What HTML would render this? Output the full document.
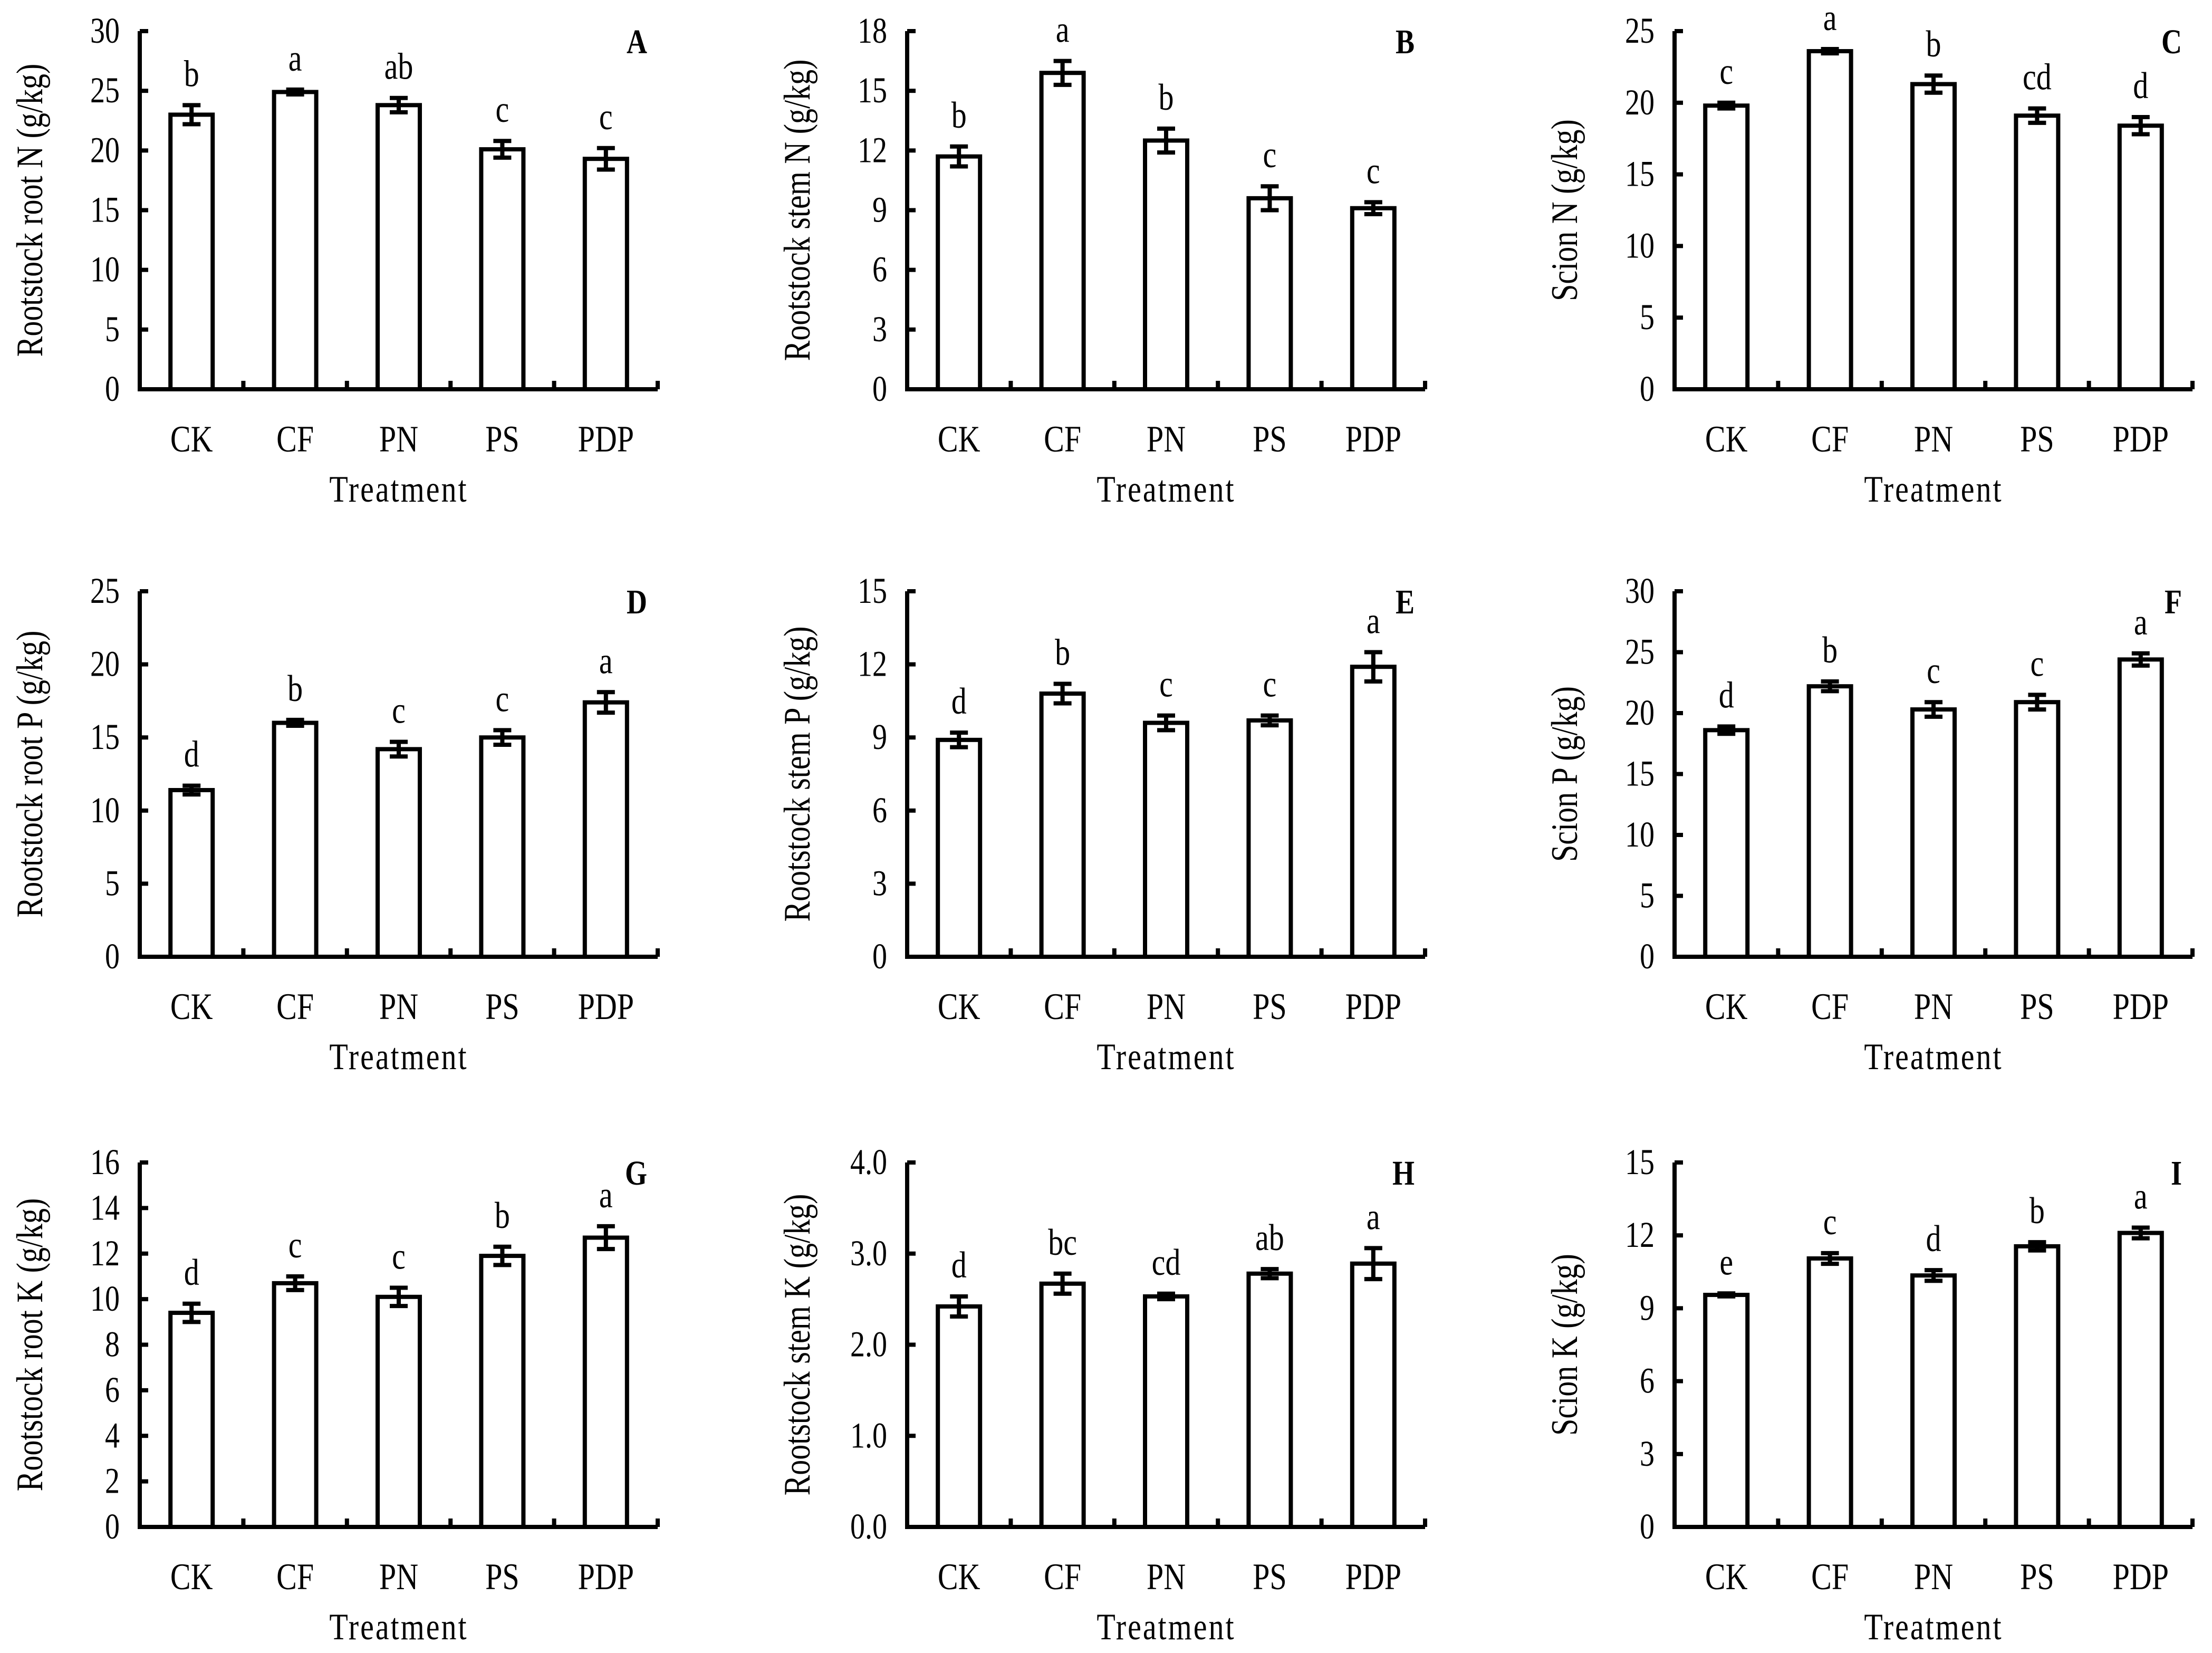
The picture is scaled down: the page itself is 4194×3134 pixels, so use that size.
<!DOCTYPE html>
<html><head><meta charset="utf-8"><style>
html,body{margin:0;padding:0;background:#fff}
svg{display:block}
text{font-family:"Liberation Serif",serif;fill:#000}
</style></head><body>
<svg id="fig" width="4194" height="3134" viewBox="0 0 4194 3134" xmlns="http://www.w3.org/2000/svg"></svg>
<script>
const categories = ["CK","CF","PN","PS","PDP"];
const panelLetters = ["A","B","C","D","E","F","G","H","I"];
const yTitles = ["Rootstock root N (g/kg)","Rootstock stem N (g/kg)","Scion N (g/kg)","Rootstock root P (g/kg)","Rootstock stem P (g/kg)","Scion P (g/kg)","Rootstock root K (g/kg)","Rootstock stem K (g/kg)","Scion K (g/kg)"];
const yMaxes = [30,18,25,25,15,30,16,4,15];
const yStepVals = [5,3,5,5,3,5,2,1,3];
const yDecimals = [0,0,0,0,0,0,0,1,0];
const meansA = [23.0,24.9,23.8,20.1,19.3];
const errsA = [0.8,0.2,0.6,0.7,0.9];
const meansB = [11.7,15.9,12.5,9.6,9.1];
const errsB = [0.5,0.6,0.6,0.6,0.3];
const meansC = [19.8,23.6,21.3,19.1,18.4];
const errsC = [0.2,0.15,0.6,0.5,0.6];
const meansD = [11.4,16.0,14.2,15.0,17.4];
const errsD = [0.3,0.2,0.5,0.5,0.7];
const meansE = [8.9,10.8,9.6,9.7,11.9];
const errsE = [0.3,0.4,0.3,0.2,0.6];
const meansF = [18.6,22.2,20.3,20.9,24.4];
const errsF = [0.3,0.4,0.6,0.6,0.5];
const meansG = [9.4,10.7,10.1,11.9,12.7];
const errsG = [0.4,0.3,0.4,0.4,0.5];
const meansH = [2.42,2.67,2.53,2.78,2.89];
const errsH = [0.11,0.11,0.03,0.05,0.17];
const meansI = [9.55,11.05,10.35,11.55,12.1];
const errsI = [0.06,0.22,0.22,0.17,0.22];
const lettersA = ["b","a","ab","c","c"];
const lettersB = ["b","a","b","c","c"];
const lettersC = ["c","a","b","cd","d"];
const lettersD = ["d","b","c","c","a"];
const lettersE = ["d","b","c","c","a"];
const lettersF = ["d","b","c","c","a"];
const lettersG = ["d","c","c","b","a"];
const lettersH = ["d","bc","cd","ab","a"];
const lettersI = ["e","c","d","b","a"];

const allMeans=[meansA,meansB,meansC,meansD,meansE,meansF,meansG,meansH,meansI];
const allErrs=[errsA,errsB,errsC,errsD,errsE,errsF,errsG,errsH,errsI];
const allLetters=[lettersA,lettersB,lettersC,lettersD,lettersE,lettersF,lettersG,lettersH,lettersI];

const svg=document.getElementById('fig');
const NS="http://www.w3.org/2000/svg";
function mk(tag,attrs,parent,txt){const e=document.createElementNS(NS,tag);for(const k in attrs)e.setAttribute(k,attrs[k]);if(txt!==undefined)e.textContent=txt;parent.appendChild(e);return e;}
function tx(parent,x,y,size,anchor,str,extra,rot){
  let tr=`translate(${x} ${y})`+(rot?` rotate(${rot})`:'')+' scale(1 1.22)';
  const a={x:0,y:0,'font-size':size,'text-anchor':anchor,transform:tr};
  if(extra)for(const k in extra)a[k]=extra[k];
  return mk('text',a,parent,str);
}

const axisXs=[265,1720,3175];
const topYs=[59,1121,2204];
const zeroYs=[738,1814,2895];
const axisLen=982;
const LW=8;

for(let p=0;p<9;p++){
  const r=Math.floor(p/3),c=p%3;
  const x0=axisXs[c],yT=topYs[r],y0=zeroYs[r];
  const ymax=yMaxes[p];
  const ys=v=>y0-(v/ymax)*(y0-yT);
  const cw=axisLen/categories.length;
  const xs=i=>x0+cw*(i+0.5);
  const g=mk('g',{},svg);
  
  
  const means=allMeans[p],errs=allErrs[p],lets=allLetters[p];
  for(let i=0;i<categories.length;i++){
    const cx=xs(i),bw=80;
    const b=mk('rect',{x:cx-bw/2,y:ys(means[i]),width:bw,height:y0-ys(means[i]),fill:'#fff',stroke:'#000','stroke-width':LW},g);
    
    
    const hi=ys(means[i]+errs[i]),lo=ys(means[i]-errs[i]);
    const eb=mk('path',{d:`M${cx} ${hi}V${lo}M${cx-17} ${hi}H${cx+17}M${cx-17} ${lo}H${cx+17}`,stroke:'#000','stroke-width':LW,fill:'none'},g);
    
    
    const lt=tx(g,cx,hi-36,58,'middle',lets[i]);
    
    
    const cl=tx(g,cx,y0+118,58,'middle',categories[i]);
    
    
  }
  const ax=mk('path',{d:`M${x0} ${yT}V${y0}H${x0+axisLen}`,stroke:'#000','stroke-width':LW,fill:'none'},g);
  
  
  for(let k=1;k<=categories.length;k++){
    const xx=x0+cw*k;
    mk('line',{x1:xx,x2:xx,y1:y0,y2:y0-16,stroke:'#000','stroke-width':LW},g);
  }
  const step=yStepVals[p];
  for(let v=0;v<=ymax+1e-9;v+=step){
    const y=ys(v);
    mk('line',{x1:x0,x2:x0+16,y1:y,y2:y,stroke:'#000','stroke-width':LW},g);
    const tl=tx(g,x0-38,y+22,56,'end',v.toFixed(yDecimals[p]));
    
    
  }
  const midY=(yT+y0)/2, tX=x0-185;
  const yt=tx(g,tX,midY,58,'middle',yTitles[p],null,-90);
  
  
  const xt=tx(g,x0+axisLen/2,y0+213,58,'middle','Treatment',{'letter-spacing':3});
  
  
  const pl=tx(g,x0+axisLen-20,yT+42,54,'end',panelLetters[p],{'font-weight':'bold'});
  
  
}
</script>
</body></html>
